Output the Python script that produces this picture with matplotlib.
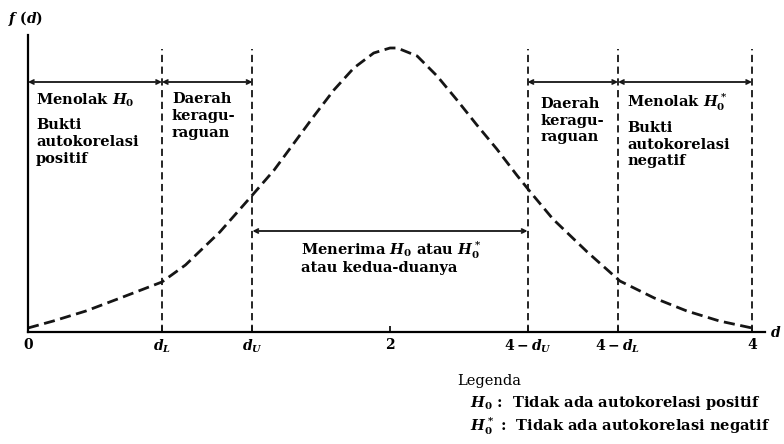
import matplotlib.pyplot as plt

# curve of f(d) (heights in relative units)
d_vals = [0.0, 0.14, 0.32, 0.51, 0.74, 0.87, 1.06, 1.24, 1.36, 1.47, 1.58, 1.69,
          1.80, 1.91, 2.0, 2.04, 2.15, 2.26, 2.37, 2.48, 2.59, 2.70, 2.78, 2.90,
          3.09, 3.27, 3.46, 3.64, 3.82, 4.0]
f_vals = [4, 11, 21, 34, 50, 67, 100, 137, 162, 189, 216, 242,
          264, 279, 284, 284, 276, 256, 232, 207, 183, 157, 139, 113,
          80, 51, 34, 21, 11, 4]

# critical values and their labels
d_L = 0.74
d_U = 1.24
crit_vals = [d_L, d_U, 4 - d_U, 4 - d_L, 4]
tick_vals = [0, d_L, d_U, 2, 4 - d_U, 4 - d_L, 4]
tick_labels = ['0', '$d_L$', '$d_U$', '2', '$4-d_U$', '$4-d_L$', '4']

plt.rcParams['font.family'] = 'DejaVu Serif'
plt.rcParams['font.weight'] = 'bold'
plt.rcParams['mathtext.fontset'] = 'custom'
plt.rcParams['mathtext.rm'] = 'DejaVu Serif:bold'
plt.rcParams['mathtext.it'] = 'DejaVu Serif:italic:bold'
ink = '#151515'

fig = plt.figure(figsize=(7.84, 4.44), dpi=100)
ax = fig.add_axes([0, 0, 1, 1])
ax.set_xlim(-28 / 181, 756 / 181)
ax.set_ylim(-112, 332)

# the density curve
ax.plot(d_vals, f_vals, color=ink, lw=2, linestyle=(0, (4, 2)))

# dashed boundaries
ax.vlines(crit_vals, 0, 283, colors=ink, lw=1.3, linestyles=(0, (4, 2.5)))

# axes through the origin
for s in ['top', 'right']:
    ax.spines[s].set_visible(False)
ax.spines['bottom'].set_position(('data', 0))
ax.spines['left'].set_position(('data', 0))
ax.spines['bottom'].set_bounds(0, 4.07)
ax.spines['left'].set_bounds(0, 297)
ax.spines['bottom'].set_linewidth(1.6)
ax.spines['left'].set_linewidth(1.6)
ax.set_yticks([])
ax.set_xticks(tick_vals)
ax.set_xticklabels(tick_labels)
ax.tick_params(axis='x', direction='in', length=4, width=1.2, pad=4, labelsize=10)

# region arrows
top_arrows = [(0, d_L), (d_L, d_U), (4 - d_U, 4 - d_L), (4 - d_L, 4)]
for a, b in top_arrows:
    ax.annotate('', xy=(b, 250), xytext=(a, 250),
                arrowprops=dict(arrowstyle='<->', lw=1.3, color=ink,
                                shrinkA=0, shrinkB=0, mutation_scale=7))
ax.annotate('', xy=(4 - d_U, 101), xytext=(d_U, 101),
            arrowprops=dict(arrowstyle='<->', lw=1.3, color=ink,
                            shrinkA=0, shrinkB=0, mutation_scale=7))

fs = 10.5
ax.text(-0.11, 314, '$f\\ (d)$', fontsize=10, va='center', ha='left')
ax.text(4.10, 0, '$d$', fontsize=10, va='center', ha='left')

ax.text(0.045, 240, 'Menolak $H_0$', fontsize=fs, va='top')
ax.text(0.045, 214, 'Bukti\nautokorelasi\npositif', fontsize=fs, va='top', linespacing=1.25)
ax.text(d_L + 0.055, 240, 'Daerah\nkeragu-\nraguan', fontsize=fs, va='top', linespacing=1.25)
ax.text(4 - d_U + 0.07, 235, 'Daerah\nkeragu-\nraguan', fontsize=fs, va='top', linespacing=1.25)
ax.text(4 - d_L + 0.05, 240, 'Menolak $H_0^*$', fontsize=fs, va='top')
ax.text(4 - d_L + 0.05, 211, 'Bukti\nautokorelasi\nnegatif', fontsize=fs, va='top', linespacing=1.25)
ax.text(1.51, 92, 'Menerima $H_0$ atau $H_0^*$\natau kedua-duanya', fontsize=fs,
        va='top', linespacing=1.0)

# legend text
ax.text(2.37, -49, 'Legenda', fontsize=fs, va='center', fontweight='normal')
ax.text(2.44, -71, '$H_0$ :  Tidak ada autokorelasi positif', fontsize=fs, va='center')
ax.text(2.44, -94, '$H_0^*$ :  Tidak ada autokorelasi negatif', fontsize=fs, va='center')

fig.savefig('out.png', dpi=100)
